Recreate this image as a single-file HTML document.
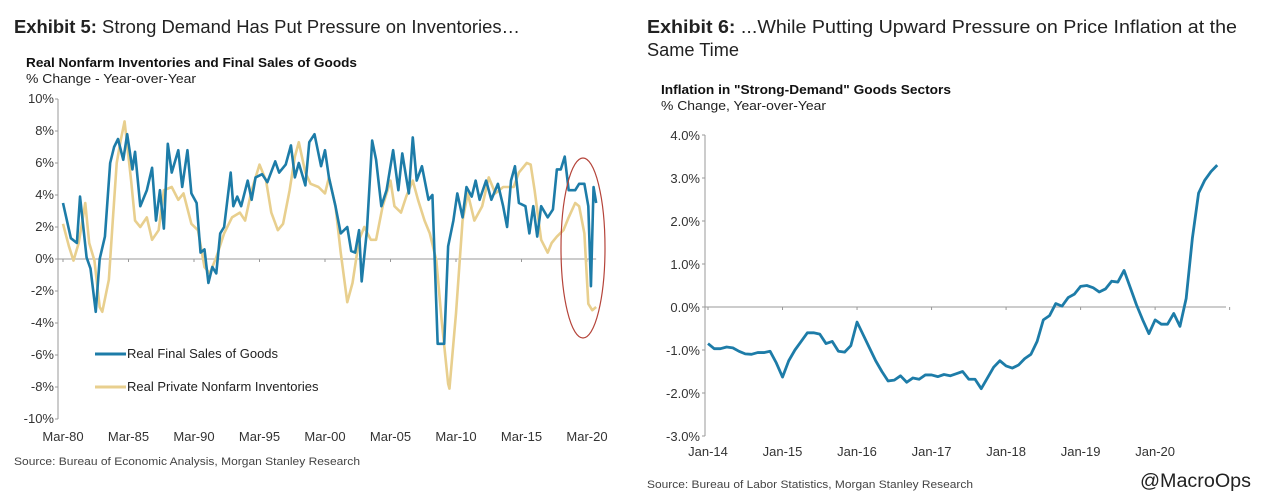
<!DOCTYPE html>
<html><head><meta charset="utf-8">
<style>
html,body{margin:0;padding:0;background:#fff;}
svg{display:block;font-family:"Liberation Sans",Arial,sans-serif;}
</style></head>
<body>
<svg id="page" width="1265" height="504" viewBox="0 0 1265 504">
  <text x="14" y="33" font-size="18" fill="#222" textLength="506" lengthAdjust="spacingAndGlyphs"><tspan font-weight="bold">Exhibit 5:</tspan>  Strong Demand Has Put Pressure on Inventories…</text>
  <text x="26" y="67" font-size="13" font-weight="bold" fill="#111" textLength="331" lengthAdjust="spacingAndGlyphs">Real Nonfarm Inventories and Final Sales of Goods</text>
  <text x="26" y="83" font-size="13" fill="#222" textLength="170" lengthAdjust="spacingAndGlyphs">% Change - Year-over-Year</text>
  <text x="14" y="465" font-size="11" fill="#444" textLength="346" lengthAdjust="spacingAndGlyphs">Source: Bureau of Economic Analysis, Morgan Stanley Research</text>

  <text x="647" y="33" font-size="18" fill="#222" textLength="590" lengthAdjust="spacingAndGlyphs"><tspan font-weight="bold">Exhibit 6:</tspan>  ...While Putting Upward Pressure on Price Inflation at the</text>
  <text x="647" y="56" font-size="18" fill="#222" textLength="92" lengthAdjust="spacingAndGlyphs">Same Time</text>
  <text x="661" y="94" font-size="13" font-weight="bold" fill="#111" textLength="290" lengthAdjust="spacingAndGlyphs">Inflation in "Strong-Demand" Goods Sectors</text>
  <text x="661" y="110" font-size="13" fill="#222" textLength="165" lengthAdjust="spacingAndGlyphs">% Change, Year-over-Year</text>
  <text x="647" y="488" font-size="11" fill="#444" textLength="326" lengthAdjust="spacingAndGlyphs">Source: Bureau of Labor Statistics, Morgan Stanley Research</text>
  <text x="1140" y="487" font-size="19" fill="#222" textLength="111" lengthAdjust="spacingAndGlyphs">@MacroOps</text>

  <g id="left"></g>
  <g id="right"></g>
</svg>
<script>
// ---- Left chart data ----
const leftYTicks = [10, 8, 6, 4, 2, 0, -2, -4, -6, -8, -10];
const leftXLabels = ["Mar-80","Mar-85","Mar-90","Mar-95","Mar-00","Mar-05","Mar-10","Mar-15","Mar-20"];
const leftXLabelYears = [1980.2,1985.2,1990.2,1995.2,2000.2,2005.2,2010.2,2015.2,2020.2];
const salesYears = [1980.2,1980.8,1981.26,1981.5,1982.0,1982.3,1982.7,1983.0,1983.4,1983.8,1984.1,1984.4,1984.8,1985.1,1985.5,1985.7,1986.1,1986.6,1987.0,1987.3,1987.6,1987.9,1988.2,1988.5,1989.0,1989.3,1989.7,1990.0,1990.4,1990.7,1991.0,1991.3,1991.6,1991.9,1992.2,1992.5,1993.0,1993.2,1993.5,1993.8,1994.3,1994.6,1994.9,1995.4,1995.8,1996.4,1996.7,1997.2,1997.6,1997.9,1998.2,1998.7,1999.0,1999.4,1999.9,2000.2,2000.5,2001.0,2001.4,2001.9,2002.2,2002.5,2002.8,2003.0,2003.4,2003.8,2004.1,2004.5,2004.9,2005.4,2005.8,2006.1,2006.6,2006.9,2007.2,2007.6,2008.1,2008.4,2008.8,2009.3,2009.6,2010.0,2010.3,2010.7,2011.0,2011.4,2011.7,2012.0,2012.5,2012.9,2013.4,2013.8,2014.1,2014.4,2014.7,2015.0,2015.5,2015.8,2016.1,2016.4,2016.7,2017.2,2017.6,2017.9,2018.2,2018.5,2018.8,2019.3,2019.6,2020.0,2020.3,2020.5,2020.7,2020.9];
const salesValues = [3.5,1.3,1.0,3.9,0.1,-0.6,-3.3,0,1.4,6.0,7.0,7.5,6.2,7.8,5.6,6.7,3.3,4.3,5.7,2.4,4.3,1.9,7.2,5.4,6.8,4.5,6.8,4.1,3.5,0.4,0.6,-1.5,-0.5,-0.9,1.6,2.0,5.4,3.3,3.9,3.3,4.9,3.7,5.1,5.3,4.8,6.1,5.4,5.9,7.1,5.1,6.0,4.6,7.3,7.8,5.8,6.8,5.1,3.3,1.6,2.0,0.5,0.4,1.8,-1.4,1.8,7.4,6.2,3.3,4.3,6.8,4.3,6.6,4.1,7.6,4.9,5.8,3.7,4.0,-5.3,-5.3,0.8,2.4,4.1,2.6,4.5,3.9,4.9,3.7,4.9,3.7,4.7,3.3,2.0,4.9,5.8,3.5,3.3,1.6,3.3,1.4,3.3,2.6,3.1,5.6,5.6,6.4,4.3,4.3,4.7,4.7,3.3,-1.7,4.5,3.5];
const invYears = [1980.2,1980.65,1981.0,1981.4,1981.9,1982.2,1982.6,1983.0,1983.2,1983.7,1984.0,1984.3,1984.6,1984.9,1985.4,1985.7,1986.1,1986.6,1987.0,1987.5,1987.9,1988.5,1989.0,1989.4,1990.0,1990.5,1991.0,1991.4,1991.9,1992.5,1993.1,1993.7,1994.1,1994.6,1995.2,1995.7,1996.1,1996.6,1997.0,1997.5,1997.9,1998.2,1998.7,1999.1,1999.7,2000.2,2000.5,2001.0,2001.4,2001.9,2002.3,2002.8,2003.2,2003.7,2004.1,2004.6,2005.2,2005.5,2006.0,2006.4,2006.9,2007.3,2007.8,2008.2,2008.7,2009.1,2009.6,2009.7,2010.2,2010.7,2011.1,2011.6,2012.2,2012.7,2013.2,2013.8,2014.6,2015.0,2015.6,2015.9,2016.2,2016.7,2017.2,2017.5,2017.9,2018.4,2018.8,2019.3,2019.6,2020.0,2020.3,2020.6,2020.9];
const invValues = [2.2,0.8,-0.1,1.0,3.5,1.0,-0.1,-3.0,-3.3,-1.3,2.4,6.0,7.4,8.6,4.9,2.4,2.0,2.6,1.2,1.8,4.3,4.5,3.7,4.1,2.2,1.8,-0.5,-0.9,0.1,1.6,2.6,2.9,2.4,4.3,5.9,4.9,2.9,1.8,2.2,4.3,6.4,7.3,5.4,4.7,4.5,4.1,5.1,3.3,0.4,-2.7,-1.5,1.2,2.0,1.2,1.2,3.3,4.9,3.3,2.9,3.9,4.9,3.7,2.4,1.6,-0.1,-3.8,-7.8,-8.1,-3.4,2.4,4.1,2.4,3.3,5.1,4.1,4.5,4.5,5.4,6.0,5.9,4.3,1.2,0.4,1.0,1.4,1.8,2.6,3.5,3.3,1.6,-2.8,-3.2,-3.0];

// ---- Right chart data ----
const rightYTicks = [4, 3, 2, 1, 0, -1, -2, -3];
const rightXLabels = ["Jan-14","Jan-15","Jan-16","Jan-17","Jan-18","Jan-19","Jan-20"];
const inflationValues = [
 -0.85,-0.97,-0.97,-0.93,-0.95,-1.03,-1.09,-1.1,-1.06,-1.06,-1.03,-1.3,
 -1.63,-1.25,-1.0,-0.8,-0.6,-0.6,-0.63,-0.85,-0.8,-1.03,-1.05,-0.9,
 -0.35,-0.65,-0.95,-1.25,-1.5,-1.72,-1.7,-1.6,-1.75,-1.65,-1.68,-1.58,
 -1.58,-1.62,-1.57,-1.6,-1.55,-1.5,-1.68,-1.68,-1.9,-1.65,-1.4,-1.25,
 -1.37,-1.42,-1.35,-1.2,-1.1,-0.8,-0.3,-0.2,0.08,0.02,0.22,0.3,
 0.48,0.5,0.45,0.35,0.42,0.6,0.58,0.85,0.45,0.05,-0.3,-0.62,
 -0.3,-0.4,-0.4,-0.15,-0.45,0.2,1.6,2.65,2.95,3.15,3.3];

const NS = "http://www.w3.org/2000/svg";
function mk(tag, attrs, parent, txt){
  const e = document.createElementNS(NS, tag);
  for (const k in attrs) e.setAttribute(k, attrs[k]);
  if (txt !== undefined) e.textContent = txt;
  parent.appendChild(e);
  return e;
}

// Left chart
(function(){
  const g = document.getElementById('left');
  const x = yr => 63 + (yr - 1980.2) * 13.1;
  const y = v => 259 - v * 16;
  let ax = mk('line', {x1:58, y1:y(10), x2:58, y2:y(-10), stroke:'#999', 'stroke-width':1}, g);
  
  
  let zl = mk('line', {x1:58, y1:y(0), x2:x(2020.9), y2:y(0), stroke:'#999', 'stroke-width':1}, g);
  
  
  leftYTicks.forEach(t => {
    mk('line', {x1:55, y1:y(t), x2:58, y2:y(t), stroke:'#999'}, g);
    const tx = mk('text', {x:54, y:y(t)+4, 'font-size':13, fill:'#333', 'text-anchor':'end'}, g, t + '%');
    
    
  });
  leftXLabels.forEach((l, i) => {
    mk('line', {x1:x(leftXLabelYears[i]), y1:y(0), x2:x(leftXLabelYears[i]), y2:y(0)+3, stroke:'#999'}, g);
    const tx = mk('text', {x:x(leftXLabelYears[i]), y:441, 'font-size':13, fill:'#333', 'text-anchor':'middle'}, g, l);
    
    
  });
  const inv = mk('polyline', {points: invYears.map((yr,i)=>x(yr)+','+y(invValues[i])).join(' '), fill:'none', stroke:'#e8cf8e', 'stroke-width':2.6, 'stroke-linejoin':'round'}, g);
  
  
  const sales = mk('polyline', {points: salesYears.map((yr,i)=>x(yr)+','+y(salesValues[i])).join(' '), fill:'none', stroke:'#1d7ca8', 'stroke-width':2.6, 'stroke-linejoin':'round'}, g);
  
  
  const el = mk('ellipse', {cx:583, cy:248, rx:22, ry:90, fill:'none', stroke:'#b5443a', 'stroke-width':1.2}, g);
  
  
  // legend
  mk('line', {x1:95, y1:354, x2:126, y2:354, stroke:'#1d7ca8', 'stroke-width':3}, g);
  const l1 = mk('text', {x:127, y:358, 'font-size':13, fill:'#222'}, g, 'Real Final Sales of Goods');
  
  
  mk('line', {x1:95, y1:387, x2:126, y2:387, stroke:'#e8cf8e', 'stroke-width':3}, g);
  const l2 = mk('text', {x:127, y:391, 'font-size':13, fill:'#222'}, g, 'Real Private Nonfarm Inventories');
  
  
})();

// Right chart
(function(){
  const g = document.getElementById('right');
  const x = m => 708 + m * 6.21;
  const y = v => 307 - v * 43;
  let ax = mk('line', {x1:705, y1:y(4), x2:705, y2:y(-3), stroke:'#999'}, g);
  
  
  let zl = mk('line', {x1:705, y1:y(0), x2:1226, y2:y(0), stroke:'#999'}, g);
  
  
  rightYTicks.forEach(t => {
    mk('line', {x1:702, y1:y(t), x2:705, y2:y(t), stroke:'#999'}, g);
    const tx = mk('text', {x:700, y:y(t)+5, 'font-size':13, fill:'#333', 'text-anchor':'end'}, g, t.toFixed(1) + '%');
    
    
  });
  rightXLabels.forEach((l, i) => {
    mk('line', {x1:x(i*12), y1:y(0), x2:x(i*12), y2:y(0)+3, stroke:'#999'}, g);
    const tx = mk('text', {x:x(i*12), y:456, 'font-size':13, fill:'#333', 'text-anchor':'middle'}, g, l);
    
    
  });
  mk('line', {x1:x(84), y1:y(0), x2:x(84), y2:y(0)+3, stroke:'#999'}, g);
  const ln = mk('polyline', {points: inflationValues.map((v,i)=>x(i)+','+y(v)).join(' '), fill:'none', stroke:'#1d7ca8', 'stroke-width':2.8, 'stroke-linejoin':'round'}, g);
  
  
})();
</script>
</body></html>
